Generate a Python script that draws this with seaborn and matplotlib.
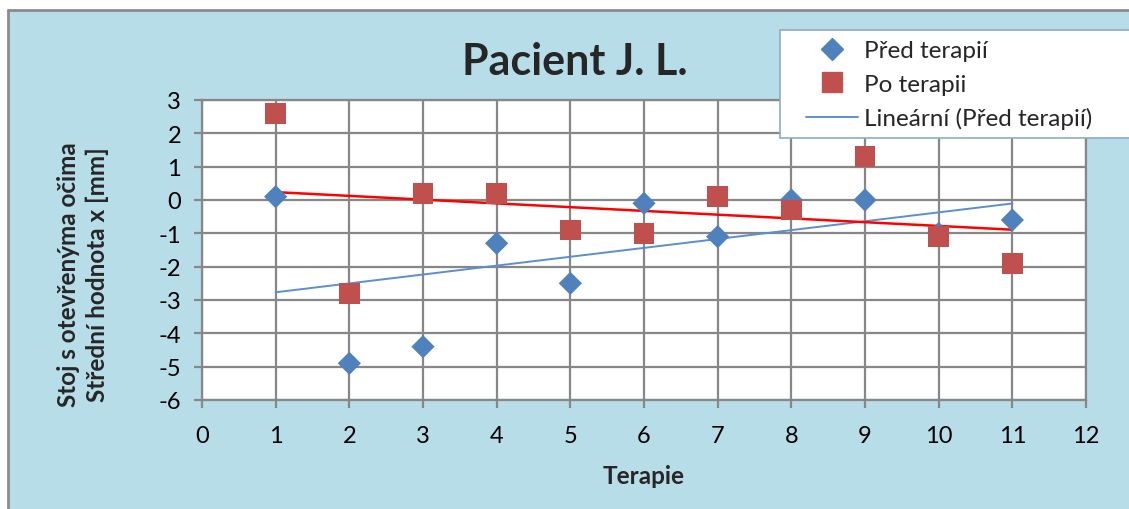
import matplotlib
matplotlib.use("Agg")
import matplotlib.pyplot as plt
import matplotlib.patches as mpatches
import seaborn as sns
import pandas as pd

terapie = [1, 2, 3, 4, 5, 6, 7, 8, 9, 10, 11]
pred_terapii = [0.1, -4.9, -4.4, -1.3, -2.5, -0.1, -1.1, 0.0, 0.0, -1.0, -0.6]
po_terapii = [2.6, -2.8, 0.2, 0.2, -0.9, -1.0, 0.1, -0.3, 1.3, -1.1, -1.9]
x_ticks = list(range(0, 13))
y_ticks = list(range(-6, 4))

sns.set_theme(style="white")
plt.rcParams['font.family'] = ['Lato', 'DejaVu Sans']

df = pd.DataFrame({"Terapie": terapie, "pred": pred_terapii, "po": po_terapii})

W, H = 1129, 510
fig = plt.figure(figsize=(W / 100, H / 100), dpi=100)
fig.patch.set_facecolor('white')
bg = mpatches.Rectangle((8 / W, 0), 1, 1 - 11 / H, transform=fig.transFigure,
                        facecolor='#B7DDE8', edgecolor='none', zorder=-10)
fig.patches.append(bg)
fig.add_artist(plt.Line2D([7.5 / W, 7.5 / W], [0, 1 - 10.5 / H], transform=fig.transFigure,
                          color='#8C8C8C', lw=2))
fig.add_artist(plt.Line2D([7.5 / W, 1], [1 - 10.5 / H, 1 - 10.5 / H], transform=fig.transFigure,
                          color='#8C8C8C', lw=2))

ax = fig.add_axes([202 / W, 1 - 401 / H, (1086 - 202) / W, (401 - 101) / H])
ax.set_facecolor('white')

blue = '#4F81BD'
red = '#C0504D'
trend_blue = '#5B8FD0'

sns.regplot(data=df, x="Terapie", y="pred", ax=ax, scatter=False, ci=None,
            line_kws=dict(color=trend_blue, lw=1.4, zorder=3), label="_nolegend_")
sns.regplot(data=df, x="Terapie", y="po", ax=ax, scatter=False, ci=None,
            line_kws=dict(color='#FF0000', lw=1.8, zorder=3), label="_nolegend_")
sns.scatterplot(data=df, x="Terapie", y="pred", ax=ax, marker='D', s=140, color=blue,
                edgecolor='none', zorder=4, legend=False)
sns.scatterplot(data=df, x="Terapie", y="po", ax=ax, marker='s', s=215, color=red,
                edgecolor='none', zorder=5, legend=False)

ax.set_xlim(0, 12)
ax.set_ylim(-6, 3)
ax.set_xticks(x_ticks)
ax.set_yticks(y_ticks)
ax.set_xticklabels([str(v) for v in x_ticks])
ax.set_yticklabels([str(v) for v in y_ticks])
ax.grid(True, color='#878787', lw=1.6)
ax.set_axisbelow(True)
for s in ax.spines.values():
    s.set_color('#878787')
    s.set_linewidth(1.6)
ax.tick_params(axis='both', which='both', labelsize=17, colors='#878787', labelcolor='black',
               length=6, width=1.6, direction='out', bottom=True, left=True)
ax.tick_params(axis='x', pad=12)
ax.tick_params(axis='y', pad=9)

ax.set_xlabel("Terapie", fontsize=17.5, fontweight='bold')
ax.xaxis.set_label_coords(0.5, -0.215)
ax.set_ylabel("Stoj s otevřenýma očima\nStřední hodnota x [mm]", fontsize=17.5,
              fontweight='bold', linespacing=1.3)
ax.yaxis.set_label_coords(-0.105, 0.42)

fig.text(575 / W, 1 - 62 / H, "Pacient J. L.", fontsize=31, fontweight='bold',
         ha='center', va='center')

# legend frame (extends past the right edge of the figure, as in the original)
frame = mpatches.Rectangle((780 / W, 1 - 139 / H), (1140 - 780) / W, (139 - 31) / H,
                           transform=fig.transFigure, facecolor='white',
                           edgecolor='#8FA9CC', lw=1.2, zorder=19)
fig.patches.append(frame)

handles = [
    plt.Line2D([], [], marker='D', color=blue, ls='none', markersize=11),
    plt.Line2D([], [], marker='s', color=red, ls='none', markersize=14),
    plt.Line2D([], [], color=trend_blue, lw=1.4),
]
labels = ["Před terapií", "Po terapii", "Lineární (Před terapií)"]
leg = fig.legend(handles, labels, loc='upper left',
                 bbox_to_anchor=(806 / W, 1 - 41 / H), bbox_transform=fig.transFigure,
                 fontsize=17.5, frameon=False, handlelength=2.15, handletextpad=0.25,
                 labelspacing=0.52, borderpad=0.0, borderaxespad=0)
leg.set_zorder(20)

fig.savefig("out.png", dpi=100)
